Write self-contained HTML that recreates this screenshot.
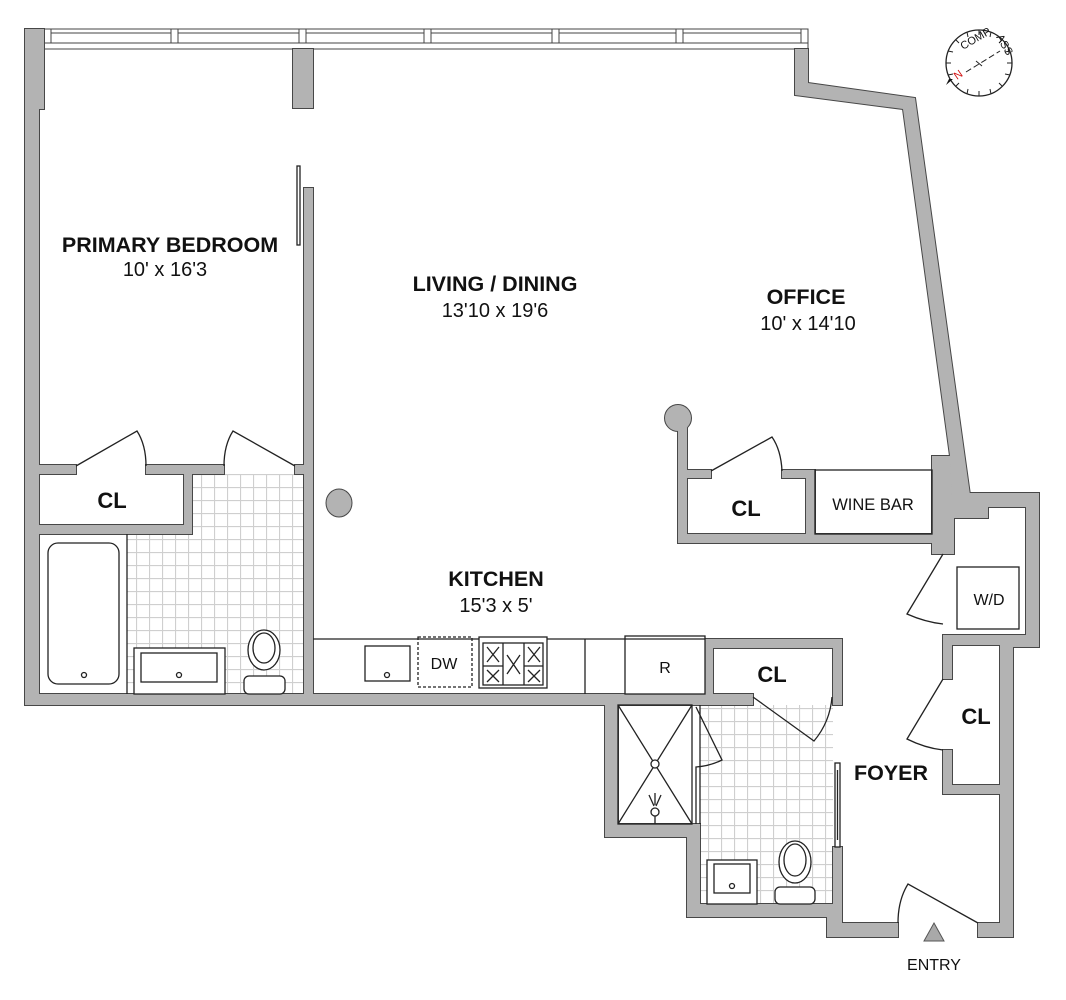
<!DOCTYPE html>
<html><head><meta charset="utf-8"><style>
html,body{margin:0;padding:0;background:#fff;}
svg{display:block;}
text{font-family:"Liberation Sans",Arial,sans-serif;fill:#111;}
.b{font-weight:bold;}
</style></head><body>
<svg width="1066" height="1000" viewBox="0 0 1066 1000" xmlns="http://www.w3.org/2000/svg">
<defs>
<pattern id="tile" x="136" y="474" width="13" height="13" patternUnits="userSpaceOnUse">
<rect width="13" height="13" fill="#fff"/>
<path d="M0 0.5H13M0.5 0V13" stroke="#cfcfcf" stroke-width="1.2"/>
</pattern>
<g id="W">
<rect x="25" y="29" width="19" height="80"/>
<rect x="25" y="29" width="14" height="676"/>
<rect x="293" y="49" width="20" height="59"/>
<rect x="304" y="188" width="9" height="517"/>
<rect x="39" y="465" width="37" height="9"/>
<rect x="146" y="465" width="78" height="9"/>
<rect x="295" y="465" width="18" height="9"/>
<rect x="184" y="465" width="8" height="69"/>
<rect x="39" y="525" width="153" height="9"/>
<rect x="25" y="694" width="728" height="11"/>
<rect x="605" y="694" width="13" height="143"/>
<rect x="605" y="824" width="95" height="13"/>
<rect x="687" y="824" width="13" height="93"/>
<rect x="687" y="904" width="155" height="13"/>
<rect x="705" y="639" width="137" height="9"/>
<rect x="705" y="639" width="8" height="66"/>
<rect x="833" y="639" width="9" height="66"/>
<rect x="833" y="847" width="9" height="70"/>
<rect x="827" y="904" width="15" height="33"/>
<rect x="827" y="923" width="71" height="14"/>
<rect x="978" y="923" width="35" height="14"/>
<rect x="1000" y="644" width="13" height="293"/>
<rect x="943" y="785" width="70" height="9"/>
<rect x="943" y="750" width="9" height="44"/>
<rect x="943" y="636" width="9" height="43"/>
<rect x="943" y="635" width="96" height="10"/>
<rect x="1026" y="493" width="13" height="154"/>
<rect x="1000" y="635" width="39" height="12"/>
<rect x="952" y="493" width="87" height="14"/>
<rect x="952" y="493" width="36" height="25"/>
<rect x="943" y="507" width="9" height="47"/>
<rect x="932" y="456" width="22" height="98"/>
<polygon points="795,49 808,49 808,83 915,98 970,495 952,495 950,456 903,109 795,95"/>
<rect x="678" y="418" width="9" height="125"/>
<circle cx="678" cy="418" r="13"/>
<rect x="678" y="470" width="33" height="8"/>
<rect x="782" y="470" width="33" height="8"/>
<rect x="806" y="470" width="9" height="73"/>
<rect x="678" y="534" width="270" height="9"/>
</g>
</defs>

<rect x="44" y="29" width="764" height="20" fill="#fff" stroke="#444" stroke-width="1"/>
<line x1="44" y1="33" x2="808" y2="33" stroke="#444" stroke-width="1"/>
<line x1="44" y1="43" x2="808" y2="43" stroke="#444" stroke-width="1"/>
<g fill="#fff" stroke="#444" stroke-width="1">
<rect x="44" y="29" width="7" height="14"/>
<rect x="171" y="29" width="7" height="14"/>
<rect x="299" y="29" width="7" height="14"/>
<rect x="424" y="29" width="7" height="14"/>
<rect x="552" y="29" width="7" height="14"/>
<rect x="676" y="29" width="7" height="14"/>
<rect x="801" y="29" width="7" height="14"/>
</g>

<rect x="192" y="474" width="112" height="62" fill="url(#tile)"/>
<rect x="127" y="530" width="177" height="164" fill="url(#tile)"/>
<rect x="700" y="705" width="133" height="199" fill="url(#tile)"/>

<g fill="#b3b3b3" stroke="#474747" stroke-width="2"><use href="#W"/></g>
<g fill="#b3b3b3" stroke="none"><use href="#W"/></g>

<ellipse cx="339" cy="503" rx="13" ry="14" fill="#b3b3b3" stroke="#474747" stroke-width="1"/>

<g fill="none" stroke="#222" stroke-width="1.3">
<rect x="297" y="166" width="3" height="79"/>
<path d="M76 466 L137 431 Q146 445 146 466"/>
<path d="M295 466 L233 431 Q224 445 224 466"/>
<line x1="127" y1="534" x2="127" y2="694"/>
<rect x="48" y="543" width="71" height="141" rx="10"/>
<circle cx="84" cy="675" r="2.5"/>
<rect x="134" y="648" width="91" height="46" fill="#fff"/>
<rect x="141" y="653" width="76" height="29"/>
<circle cx="179" cy="675" r="2.5"/>
<ellipse cx="264" cy="650" rx="16" ry="20" fill="#fff"/>
<ellipse cx="264" cy="648" rx="11" ry="15"/>
<rect x="244" y="676" width="41" height="18" rx="5" fill="#fff"/>
<line x1="313" y1="639" x2="705" y2="639"/>
<line x1="585" y1="639" x2="585" y2="694"/>
<rect x="365" y="646" width="45" height="35"/>
<circle cx="387" cy="675" r="2.5"/>
<rect x="418" y="637" width="54" height="50" stroke-dasharray="3,2"/>
<rect x="479" y="637" width="68" height="51" fill="#fff"/>
<rect x="483" y="643" width="60" height="42"/>
<line x1="503" y1="643" x2="503" y2="685"/><line x1="524" y1="643" x2="524" y2="685"/>
<line x1="483" y1="666" x2="503" y2="666"/><line x1="524" y1="666" x2="543" y2="666"/>
<path d="M487 647L499 662M499 647L487 662M487 670L499 682M499 670L487 682M528 647L540 662M540 647L528 662M528 670L540 682M540 670L528 682M507 655L520 674M520 655L507 674"/>
<rect x="625" y="636" width="80" height="58" fill="#fff"/>
<line x1="625" y1="639" x2="705" y2="639"/>
<path d="M753 697 L814 741 Q830 722 832 697"/>
<rect x="618" y="705" width="74" height="119"/>
<line x1="700" y1="705" x2="700" y2="824"/>
<path d="M618 705L692 824M692 705L618 824"/>
<circle cx="655" cy="764" r="4" fill="#fff"/>
<circle cx="655" cy="812" r="4"/>
<path d="M655 816V824M649 795L654 806M661 795L656 806M655 793V805"/>
<path d="M696 707 L722 760 Q710 766 696 767 L696 824"/>
<rect x="707" y="860" width="50" height="44" fill="#fff"/>
<rect x="714" y="864" width="36" height="29"/>
<circle cx="732" cy="886" r="2.5"/>
<ellipse cx="795" cy="862" rx="16" ry="21" fill="#fff"/>
<ellipse cx="795" cy="860" rx="11" ry="16"/>
<rect x="775" y="887" width="40" height="17" rx="5" fill="#fff"/>
<rect x="835" y="763" width="5" height="84" fill="#fff"/>
<line x1="837.5" y1="770" x2="837.5" y2="840"/>
<path d="M711 471 L772 437 Q781 450 782 471"/>
<rect x="815" y="470" width="117" height="64"/>
<path d="M943 554 L907 614 Q925 622 943 624"/>
<rect x="957" y="567" width="62" height="62"/>
<path d="M943 679 L907 739 Q925 748 943 750"/>
<path d="M978 923 L908 884 Q898 900 898 923"/>
</g>

<polygon points="934,923 944,941 924,941" fill="#a9a9a9" stroke="#555" stroke-width="1"/>

<g>
<circle cx="979" cy="63" r="33" fill="#fff" stroke="#222" stroke-width="1.3"/>
<g stroke="#222" stroke-width="1">
<line x1="979" y1="30" x2="979" y2="35"/><line x1="979" y1="96" x2="979" y2="91"/>
<line x1="946" y1="63" x2="951" y2="63"/><line x1="1012" y1="63" x2="1007" y2="63"/>
<line x1="1002" y1="40" x2="999" y2="43"/><line x1="956" y1="86" x2="959" y2="83"/>
<line x1="956" y1="40" x2="959" y2="43"/><line x1="1002" y1="86" x2="999" y2="83"/>
<line x1="991" y1="32" x2="990" y2="37"/><line x1="967" y1="94" x2="968" y2="89"/>
<line x1="1010" y1="51" x2="1005" y2="52"/><line x1="948" y1="75" x2="953" y2="74"/>
<line x1="967" y1="32" x2="968" y2="37"/><line x1="991" y1="94" x2="990" y2="89"/>
<line x1="948" y1="51" x2="953" y2="52"/><line x1="1010" y1="75" x2="1005" y2="74"/>
<line x1="966" y1="72" x2="1000" y2="51" stroke-dasharray="6,3"/>
<line x1="976" y1="61" x2="982" y2="66"/>
</g>
<polygon points="946,85 953,79 949,79" fill="#111"/>
<text x="957" y="80" font-size="11" style="fill:#d01010" transform="rotate(-35 957 80)">N</text>
<text x="963" y="50" font-size="11" transform="rotate(-30 963 50)">COMP</text>
<text x="996" y="37" font-size="11" transform="rotate(60 996 37)">ASS</text>
</g>

<text class="b" x="170" y="252" font-size="21.5" text-anchor="middle">PRIMARY BEDROOM</text>
<text x="165" y="276" font-size="20" text-anchor="middle">10' x 16'3</text>
<text class="b" x="495" y="291" font-size="21.5" text-anchor="middle">LIVING / DINING</text>
<text x="495" y="317" font-size="20" text-anchor="middle">13'10 x 19'6</text>
<text class="b" x="806" y="304" font-size="21.5" text-anchor="middle">OFFICE</text>
<text x="808" y="330" font-size="20" text-anchor="middle">10' x 14'10</text>
<text class="b" x="496" y="586" font-size="21.5" text-anchor="middle">KITCHEN</text>
<text x="496" y="612" font-size="20" text-anchor="middle">15'3 x 5'</text>
<text class="b" x="112" y="508" font-size="22" text-anchor="middle">CL</text>
<text class="b" x="746" y="516" font-size="22" text-anchor="middle">CL</text>
<text class="b" x="772" y="682" font-size="22" text-anchor="middle">CL</text>
<text class="b" x="976" y="724" font-size="22" text-anchor="middle">CL</text>
<text class="b" x="891" y="780" font-size="21.5" text-anchor="middle">FOYER</text>
<text x="873" y="510" font-size="16.5" text-anchor="middle">WINE BAR</text>
<text x="989" y="605" font-size="16" text-anchor="middle">W/D</text>
<text x="444" y="669" font-size="16" text-anchor="middle">DW</text>
<text x="665" y="673" font-size="16" text-anchor="middle">R</text>
<text x="934" y="970" font-size="16" text-anchor="middle">ENTRY</text>
</svg>
</body></html>
